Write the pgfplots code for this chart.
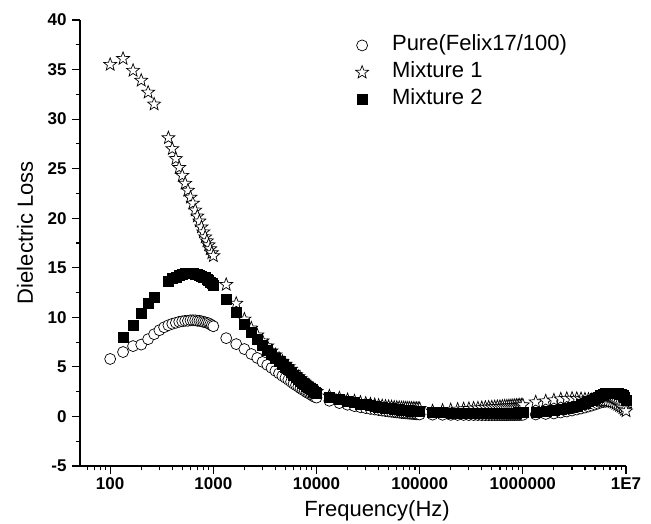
\documentclass[border=0pt]{standalone}
\usepackage{fontspec}
\setmainfont{Liberation Sans}
\usepackage{pgfplots}
\pgfplotsset{compat=1.18}
\pgfdeclareplotmark{ostar}{%
  \pgfpathmoveto{\pgfpointpolar{90}{\pgfplotmarksize}}%
  \pgfpathlineto{\pgfpointpolar{126}{0.42\pgfplotmarksize}}%
  \pgfpathlineto{\pgfpointpolar{162}{\pgfplotmarksize}}%
  \pgfpathlineto{\pgfpointpolar{198}{0.42\pgfplotmarksize}}%
  \pgfpathlineto{\pgfpointpolar{234}{\pgfplotmarksize}}%
  \pgfpathlineto{\pgfpointpolar{270}{0.42\pgfplotmarksize}}%
  \pgfpathlineto{\pgfpointpolar{306}{\pgfplotmarksize}}%
  \pgfpathlineto{\pgfpointpolar{342}{0.42\pgfplotmarksize}}%
  \pgfpathlineto{\pgfpointpolar{18}{\pgfplotmarksize}}%
  \pgfpathlineto{\pgfpointpolar{54}{0.42\pgfplotmarksize}}%
  \pgfpathclose
  \pgfusepathqfillstroke
}
\begin{document}
\begin{tikzpicture}
\begin{axis}[
  name=ax,
  scale only axis, width=546pt, height=446pt,
  xmode=log, xmin=51, xmax=1e7, ymin=-5, ymax=40,
  axis x line*=bottom, axis y line*=left,
  axis line style={-, line width=1.4pt},
  every tick/.style={line width=1.2pt, black},
  tick align=outside,
  major tick length=8pt, minor tick length=4pt,
  xtick={100,1000,10000,100000,1000000,10000000},
  xticklabels={100,1000,10000,100000,1000000,1E7},
  minor xtick={60,70,80,90,200,300,400,500,600,700,800,900,2000,3000,4000,5000,6000,7000,8000,9000,20000,30000,40000,50000,60000,70000,80000,90000,200000,300000,400000,500000,600000,700000,800000,900000,2000000,3000000,4000000,5000000,6000000,7000000,8000000,9000000},
  ytick={-5,0,5,10,15,20,25,30,35,40},
  yticklabels={-5,0,5,10,15,20,25,30,35,40},
  minor ytick={-2.5,2.5,7.5,12.5,17.5,22.5,27.5,32.5,37.5},
  tick label style={font=\fontsize{17}{19}\selectfont\bfseries},
  yticklabel style={xshift=-2pt},
  xlabel={Frequency(Hz)}, ylabel={Dielectric Loss},
  label style={font=\fontsize{22}{26}\selectfont},
  xlabel style={at={(axis description cs:0.544,-0.1121)}, anchor=base},
  ylabel style={at={(axis description cs:-0.0861,0.5235)}, anchor=base},
  legend cell align=left,
  legend style={draw=none, fill=none, at={(rel axis cs:0.4990,0.9715)}, anchor=north west,
    font=\fontsize{22}{26}\selectfont, row sep=6pt,
    nodes={inner sep=0pt, text height=16pt, text depth=5pt},
    /tikz/every odd column/.append style={column sep=23.5pt}},
]
\addplot[only marks, mark=*, mark size=5.5pt, mark options={fill=white, draw=black, line width=0.7pt}] coordinates {
(100,5.8) (133.3,6.5) (166.7,7.1) (200,7.25) (233.3,7.8) (266.7,8.3) (300,8.7) (333.3,9.0) (366.7,9.2) (400,9.35)
(433.3,9.45) (466.7,9.55) (500,9.6) (533.3,9.65) (566.7,9.65) (600,9.7) (633.3,9.7) (666.7,9.7) (700,9.65) (733.3,9.65)
(766.7,9.6) (800,9.55) (833.3,9.5) (866.7,9.45) (900,9.4) (933.3,9.3) (966.7,9.2) (1000,9.1)
(1333,7.9) (1667,7.3) (2000,6.8) (2333,6.3) (2667,5.9) (3000,5.5) (3333,5.2) (3667,4.9) (4000,4.6) (4333,4.35)
(4667,4.1) (5000,3.9) (5333,3.7) (5667,3.5) (6000,3.3) (6333,3.15) (6667,3.0) (7000,2.85) (7333,2.7) (7667,2.6)
(8000,2.45) (8333,2.35) (8667,2.25) (9000,2.15) (9333,2.05) (9667,1.95) (10000,1.9)
(13333,1.58) (16667,1.35) (20000,1.18) (23333,1.04) (26667,0.93) (30000,0.84) (33333,0.76) (36667,0.70) (40000,0.64)
(43333,0.59) (46667,0.54) (50000,0.50) (53333,0.47) (56667,0.43) (60000,0.40) (63333,0.38) (66667,0.35) (70000,0.33)
(73333,0.31) (76667,0.29) (80000,0.28) (83333,0.26) (86667,0.25) (90000,0.23) (93333,0.22) (96667,0.21) (100000,0.20)
(133333,0.18) (166667,0.17) (200000,0.16) (233333,0.15) (266667,0.15) (300000,0.14) (333333,0.14) (366667,0.14) (400000,0.13)
(433333,0.13) (466667,0.13) (500000,0.13) (533333,0.13) (566667,0.13) (600000,0.13) (633333,0.13) (666667,0.13) (700000,0.13)
(733333,0.14) (766667,0.14) (800000,0.14) (833333,0.14) (866667,0.15) (900000,0.15) (933333,0.15) (966667,0.16) (1000000,0.16)
(1333333,0.2) (1666667,0.25) (2000000,0.3) (2333333,0.4) (2666667,0.5) (3000000,0.6) (3333333,0.7) (3666667,0.8) (4000000,0.9)
(4333333,1.0) (4666667,1.1) (5000000,1.2) (5333333,1.3) (5666667,1.4) (6000000,1.45) (6333333,1.5) (6666667,1.55) (7000000,1.55)
(7333333,1.55) (7666667,1.5) (8000000,1.45) (8333333,1.4) (8666667,1.3) (9000000,1.2) (9333333,1.1) (9666667,1.0) (10000000,0.9)
};
\addlegendentry{Pure(Felix17/100)}
\addplot[only marks, mark=ostar, mark size=6.8pt, mark options={fill=white, draw=black, line width=0.7pt}] coordinates {
(100,35.5) (133.3,36.1) (166.7,34.9) (200,33.9) (233.3,32.7) (266.7,31.5)
(366.7,28.1) (400,27.0) (433.3,26.0) (466.7,25.1) (500,24.3) (533.3,23.5) (566.7,22.8) (600,22.1) (633.3,21.5) (666.7,20.8)
(700,20.2) (733.3,19.7) (766.7,19.1) (800,18.6) (833.3,18.1) (866.7,17.7) (900,17.3) (933.3,16.9) (966.7,16.5) (1000,16.2)
(1333,13.3) (1667,11.4) (2000,9.8) (2333,8.9) (2667,8.2) (3000,7.6) (3333,7.1) (3667,6.6) (4000,6.2) (4333,5.85)
(4667,5.55) (5000,5.25) (5333,5.0) (5667,4.75) (6000,4.45) (6333,4.2) (6667,4.0) (7000,3.8) (7333,3.6) (7667,3.45)
(8000,3.3) (8333,3.15) (8667,3.0) (9000,2.85) (9333,2.7) (9667,2.6) (10000,2.5)
(13333,2.05) (16667,1.85) (20000,1.68) (23333,1.54) (26667,1.42) (30000,1.32) (33333,1.24) (36667,1.17) (40000,1.11)
(43333,1.06) (46667,1.02) (50000,0.98) (53333,0.95) (56667,0.92) (60000,0.90) (63333,0.88) (66667,0.86) (70000,0.85)
(73333,0.84) (76667,0.83) (80000,0.82) (83333,0.81) (86667,0.80) (90000,0.80) (93333,0.79) (96667,0.79) (100000,0.78)
(133333,0.54) (166667,0.61) (200000,0.66) (233333,0.71) (266667,0.75) (300000,0.78) (333333,0.82) (366667,0.84) (400000,0.87)
(433333,0.90) (466667,0.92) (500000,0.94) (533333,0.96) (566667,0.98) (600000,0.99) (633333,1.01) (666667,1.03) (700000,1.04)
(733333,1.06) (766667,1.07) (800000,1.08) (833333,1.09) (866667,1.11) (900000,1.12) (933333,1.13) (966667,1.14) (1000000,1.15)
(1333333,1.45) (1666667,1.55) (2000000,1.65) (2333333,1.75) (2666667,1.8) (3000000,1.82) (3333333,1.8) (3666667,1.78) (4000000,1.75)
(4333333,1.72) (4666667,1.7) (5000000,1.68) (5333333,1.65) (5666667,1.62) (6000000,1.6) (6333333,1.57) (6666667,1.55) (7000000,1.5)
(7333333,1.45) (7666667,1.4) (8000000,1.3) (8333333,1.2) (8666667,1.1) (9000000,1.0) (9333333,0.85) (9666667,0.7) (10000000,0.55)
};
\addlegendentry{Mixture 1}
\addplot[only marks, mark=square*, mark size=5pt, mark options={fill=black, draw=black}] coordinates {
(133.3,8.0) (166.7,9.2) (200,10.4) (233.3,11.4) (266.7,12.0)
(366.7,13.6) (400,13.9) (433.3,14.1) (466.7,14.3) (500,14.4) (533.3,14.5) (566.7,14.5) (600,14.5) (633.3,14.5) (666.7,14.4)
(700,14.4) (733.3,14.3) (766.7,14.2) (800,14.1) (833.3,14.0) (866.7,13.8) (900,13.7) (933.3,13.5) (966.7,13.4) (1000,13.2)
(1333,11.8) (1667,10.5) (2000,9.3) (2333,8.5) (2667,7.8) (3000,7.2) (3333,6.7) (3667,6.3) (4000,5.9) (4333,5.6)
(4667,5.3) (5000,5.0) (5333,4.75) (5667,4.5) (6000,4.2) (6333,3.95) (6667,3.75) (7000,3.55) (7333,3.4) (7667,3.25)
(8000,3.1) (8333,2.95) (8667,2.8) (9000,2.7) (9333,2.55) (9667,2.45) (10000,2.35)
(13333,1.95) (16667,1.72) (20000,1.54) (23333,1.40) (26667,1.28) (30000,1.19) (33333,1.11) (36667,1.04) (40000,0.98)
(43333,0.93) (46667,0.88) (50000,0.84) (53333,0.80) (56667,0.76) (60000,0.73) (63333,0.70) (66667,0.67) (70000,0.65)
(73333,0.62) (76667,0.60) (80000,0.58) (83333,0.56) (86667,0.54) (90000,0.52) (93333,0.51) (96667,0.49) (100000,0.48)
(133333,0.40) (166667,0.38) (200000,0.36) (233333,0.35) (266667,0.34) (300000,0.33) (333333,0.33) (366667,0.32) (400000,0.32)
(433333,0.32) (466667,0.32) (500000,0.32) (533333,0.32) (566667,0.33) (600000,0.33) (633333,0.33) (666667,0.34) (700000,0.34)
(733333,0.35) (766667,0.35) (800000,0.36) (833333,0.36) (866667,0.37) (900000,0.38) (933333,0.38) (966667,0.39) (1000000,0.40)
(1333333,0.45) (1666667,0.55) (2000000,0.65) (2333333,0.75) (2666667,0.85) (3000000,0.95) (3333333,1.05) (3666667,1.2) (4000000,1.35)
(4333333,1.5) (4666667,1.65) (5000000,1.8) (5333333,1.95) (5666667,2.1) (6000000,2.2) (6333333,2.3) (6666667,2.35) (7000000,2.35)
(7333333,2.35) (7666667,2.35) (8000000,2.3) (8333333,2.3) (8666667,2.25) (9000000,2.2) (9333333,2.1) (9666667,1.9) (10000000,1.6)
};
\addlegendentry{Mixture 2}
\end{axis}
\pgfresetboundingbox
\path[use as bounding box] (ax.south west) ++(-80pt,-57pt) rectangle ++(651pt,523pt);
\end{tikzpicture}
\end{document}
